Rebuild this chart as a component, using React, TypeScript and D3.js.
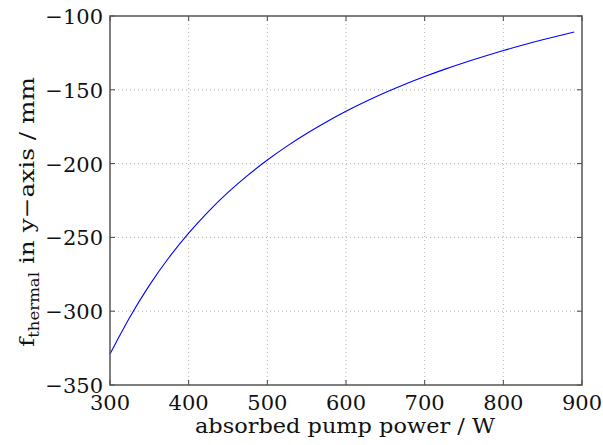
import React, { useEffect, useRef } from 'react';
import * as d3 from 'd3';

// absorbed pump power (W) and thermal focal length in y (mm)
const power = [300, 325, 350, 375, 400, 425, 450, 475, 500, 525, 550, 575, 600, 625, 650, 675, 700, 725, 750, 775, 800, 825, 850, 875, 890];
const focal = [-329, -303.7, -282, -263.2, -246.8, -232.2, -219.3, -207.8, -197.4, -188, -179.5, -171.7, -164.5, -157.9, -151.8, -146.2, -141, -136.1, -131.6, -127.4, -123.4, -119.6, -116.1, -112.8, -110.9];
const xTicks = [300, 400, 500, 600, 700, 800, 900];
const yTicks = [-350, -300, -250, -200, -150, -100];

export default function App() {
  const ref = useRef<SVGSVGElement>(null);

  useEffect(() => {
    const width = 603;
    const height = 445;
    const margin = { top: 16, right: 21, bottom: 60, left: 110 };
    const font = "'DejaVu Serif', 'Liberation Serif', serif";

    const svg = d3.select(ref.current);
    svg.selectAll('*').remove();
    svg.attr('width', width).attr('height', height);

    const x = d3.scaleLinear().domain([300, 900]).range([margin.left, width - margin.right]);
    const y = d3.scaleLinear().domain([-350, -100]).range([height - margin.bottom, margin.top]);

    const [x0, x1] = x.range();
    const [y0, y1] = y.range();

    // grid
    svg.append('g')
      .selectAll('line')
      .data(xTicks.slice(1, -1))
      .enter()
      .append('line')
      .attr('x1', d => x(d)).attr('x2', d => x(d))
      .attr('y1', y1).attr('y2', y0)
      .attr('stroke', '#b0b0b0')
      .attr('stroke-dasharray', '1,3');

    svg.append('g')
      .selectAll('line')
      .data(yTicks.slice(1, -1))
      .enter()
      .append('line')
      .attr('y1', d => y(d)).attr('y2', d => y(d))
      .attr('x1', x0).attr('x2', x1)
      .attr('stroke', '#b0b0b0')
      .attr('stroke-dasharray', '1,3');

    // curve
    const pts = power.map((p, i) => [p, focal[i]] as [number, number]);
    const line = d3.line<[number, number]>()
      .x(d => x(d[0]))
      .y(d => y(d[1]))
      .curve(d3.curveBasis);

    svg.append('path')
      .datum(pts)
      .attr('d', line)
      .attr('fill', 'none')
      .attr('stroke', '#0000ff')
      .attr('stroke-width', 1.1);

    // inner ticks on all four sides
    const tl = 5;
    const ticks = svg.append('g').attr('stroke', '#444').attr('stroke-width', 1);
    xTicks.forEach(t => {
      ticks.append('line').attr('x1', x(t)).attr('x2', x(t)).attr('y1', y0).attr('y2', y0 - tl);
      ticks.append('line').attr('x1', x(t)).attr('x2', x(t)).attr('y1', y1).attr('y2', y1 + tl);
    });
    yTicks.forEach(t => {
      ticks.append('line').attr('y1', y(t)).attr('y2', y(t)).attr('x1', x0).attr('x2', x0 + tl);
      ticks.append('line').attr('y1', y(t)).attr('y2', y(t)).attr('x1', x1).attr('x2', x1 - tl);
    });

    // frame
    svg.append('rect')
      .attr('x', x0).attr('y', y1)
      .attr('width', x1 - x0).attr('height', y0 - y1)
      .attr('fill', 'none')
      .attr('stroke', '#555')
      .attr('stroke-width', 1.5);

    // tick labels
    svg.append('g')
      .selectAll('text')
      .data(xTicks)
      .enter()
      .append('text')
      .attr('x', d => x(d))
      .attr('y', y0 + 25)
      .attr('text-anchor', 'middle')
      .style('font-family', font)
      .style('font-size', '21px')
      .attr('fill', '#111')
      .text(d => d);

    svg.append('g')
      .selectAll('text')
      .data(yTicks)
      .enter()
      .append('text')
      .attr('x', x0 - 7)
      .attr('y', d => y(d) + 8)
      .attr('text-anchor', 'end')
      .style('font-family', font)
      .style('font-size', '21px')
      .attr('fill', '#111')
      .text(d => '\u2212' + Math.abs(d));

    // axis labels
    svg.append('text')
      .attr('x', 345)
      .attr('y', 433)
      .attr('text-anchor', 'middle')
      .style('font-family', font)
      .style('font-size', '21px')
      .attr('fill', '#111')
      .attr('textLength', 300)
      .attr('lengthAdjust', 'spacingAndGlyphs')
      .text('absorbed pump power / W');

    const yl = svg.append('text')
      .attr('transform', 'translate(34,212) rotate(-90)')
      .attr('text-anchor', 'middle')
      .style('font-family', font)
      .style('font-size', '21px')
      .attr('fill', '#111')
      .attr('textLength', 270)
      .attr('lengthAdjust', 'spacingAndGlyphs');
    yl.append('tspan').text('f');
    yl.append('tspan').style('font-size', '14px').attr('dy', 5).text('thermal');
    yl.append('tspan').attr('dy', -5).text(' in y\u2212axis / mm');
  }, []);

  return <svg ref={ref} style={{ position: 'absolute', left: 0, top: 0 }} />;
}
